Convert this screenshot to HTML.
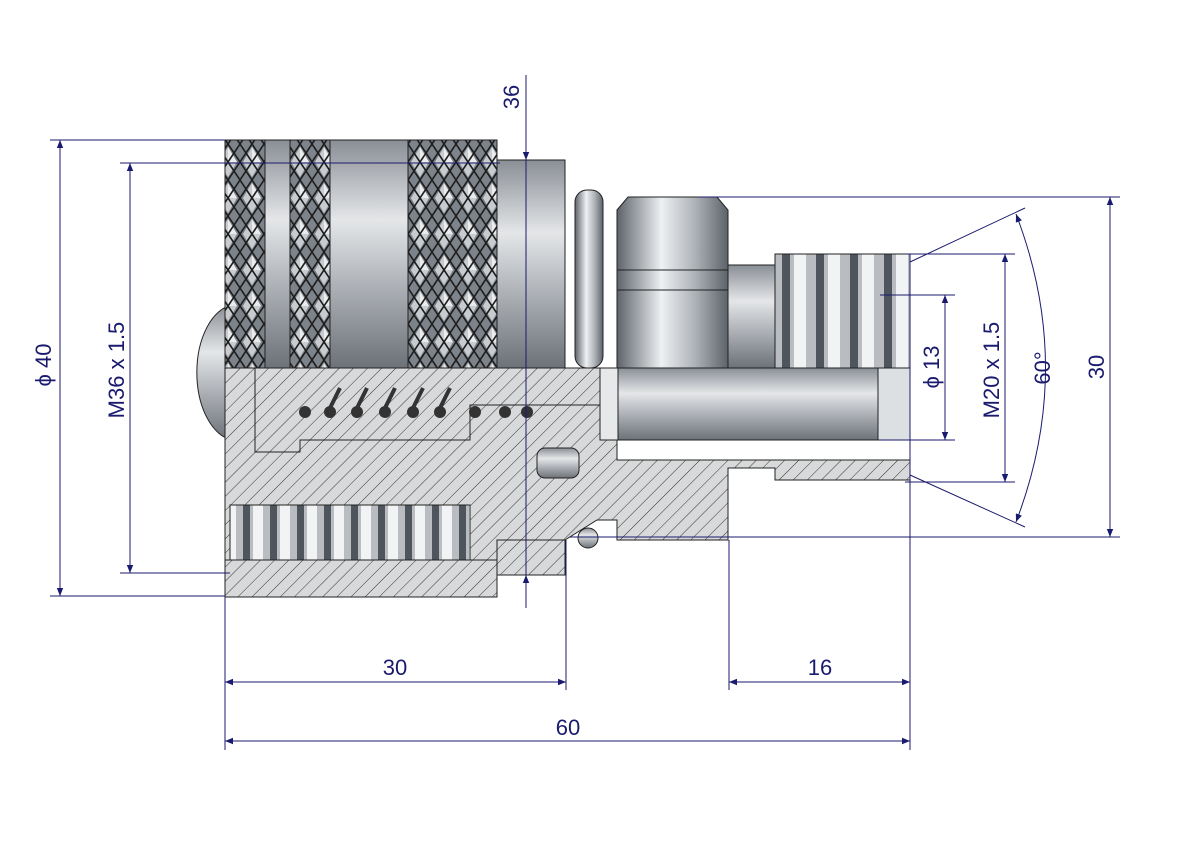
<!DOCTYPE html>
<html><head><meta charset="utf-8"><style>
html,body{margin:0;padding:0;background:#fff}
svg{display:block}
text{font-family:"Liberation Sans",sans-serif;font-size:22px;fill:#1a1a6e}
</style></head><body>
<svg width="1191" height="842" viewBox="0 0 1191 842" xmlns="http://www.w3.org/2000/svg">
<defs>
<linearGradient id="gv" x1="0" y1="0" x2="0" y2="1">
<stop offset="0" stop-color="#8a8f96"/><stop offset="0.35" stop-color="#e4e6e8"/><stop offset="0.6" stop-color="#b5b9be"/><stop offset="1" stop-color="#6d7278"/></linearGradient>
<linearGradient id="gh" x1="0" y1="0" x2="1" y2="0">
<stop offset="0" stop-color="#5d636a"/><stop offset="0.4" stop-color="#eef0f2"/><stop offset="0.7" stop-color="#aeb3b8"/><stop offset="1" stop-color="#5d636a"/></linearGradient>
<pattern id="hatch" width="10" height="10" patternUnits="userSpaceOnUse" patternTransform="rotate(45)">
<rect width="10" height="10" fill="#d8d9db"/><line x1="0" y1="0" x2="0" y2="10" stroke="#333" stroke-width="1"/></pattern>
<pattern id="knurl" width="24" height="36" patternUnits="userSpaceOnUse">
<rect width="24" height="36" fill="#7d838a"/>
<path d="M12 3 L21 18 L12 33 L3 18 Z" fill="#c8ccd0"/>
<path d="M12 3 L21 18 L12 18 Z" fill="#e9ebed"/>
<path d="M0 0 L12 18 L0 36 M24 0 L12 18 L24 36 M0 18 L12 0 L24 18 L12 36 Z" stroke="#1e1e1e" stroke-width="1.6" fill="none"/></pattern>
<pattern id="thr" width="34" height="10" patternUnits="userSpaceOnUse">
<rect width="34" height="10" fill="#b9bdc2"/><rect x="0" width="8" height="10" fill="#4f555c"/><rect x="12" width="12" height="10" fill="#f2f3f4"/></pattern>
<pattern id="thr2" width="27" height="10" patternUnits="userSpaceOnUse">
<rect width="27" height="10" fill="#b9bdc2"/><rect x="0" width="7" height="10" fill="#4f555c"/><rect x="10" width="10" height="10" fill="#f2f3f4"/></pattern>
<marker id="ar" viewBox="0 0 10 10" refX="10" refY="5" markerWidth="14" markerHeight="8" orient="auto-start-reverse" markerUnits="userSpaceOnUse"><path d="M0 1 L10 5 L0 9 Z" fill="#1a1a6e"/></marker>
</defs>

<path d="M232 305 A40 68 0 0 0 232 440 Z" fill="url(#gv)" stroke="#222"/>
<rect x="225" y="140" width="272" height="228" fill="url(#gv)" stroke="#222"/>
<rect x="225" y="140" width="40" height="228" fill="url(#knurl)" stroke="#222"/>
<rect x="290" y="140" width="40" height="228" fill="url(#knurl)" stroke="#222"/>
<rect x="408" y="140" width="89" height="228" fill="url(#knurl)" stroke="#222"/>
<rect x="497" y="160" width="68" height="208" fill="url(#gv)" stroke="#222"/>
<rect x="575" y="190" width="28" height="178" rx="12" fill="url(#gh)" stroke="#222"/>
<path d="M617 210 L628 197 L717 197 L728 210 L728 368 L617 368 Z" fill="url(#gh)" stroke="#222"/>
<line x1="617" y1="270" x2="728" y2="270" stroke="#222"/>
<line x1="617" y1="290" x2="728" y2="290" stroke="#222"/>
<rect x="728" y="265" width="47" height="103" fill="url(#gv)" stroke="#222"/>
<rect x="775" y="254" width="135" height="114" fill="url(#thr)" stroke="#222"/>
<rect x="600" y="368" width="310" height="72" fill="url(#gv)" stroke="#222"/>
<path d="M878 368 L910 368 L910 440 L878 440 Z" fill="#dde0e3" stroke="#222"/>

<path d="M225 368 L497 368 L497 368 L600 368 L600 440 L617 440 L617 460 L910 460 L910 480 L775 480 L775 468 L728 468 L728 540 L617 540 L617 520 L597 520 L565 540 L565 575 L497 575 L497 597 L225 597 Z" fill="url(#hatch)" stroke="#222"/>
<path d="M255 368 L600 368 L600 405 L470 405 L470 440 L300 440 L300 452 L255 452 Z" fill="url(#hatch)" stroke="#222"/>
<rect x="230" y="505" width="240" height="55" fill="url(#thr2)" stroke="#222"/>
<rect x="225" y="560" width="272" height="37" fill="url(#hatch)" stroke="#222"/>
<rect x="497" y="540" width="68" height="35" fill="url(#hatch)" stroke="#222"/>
<g fill="#333">
<circle cx="305" cy="412" r="6"/><circle cx="330" cy="412" r="6"/><circle cx="357" cy="412" r="6"/><circle cx="385" cy="412" r="6"/><circle cx="413" cy="412" r="6"/><circle cx="440" cy="412" r="6"/><circle cx="475" cy="412" r="6"/><circle cx="505" cy="412" r="6"/><circle cx="527" cy="412" r="6"/>
</g>
<path d="M330 408 L340 388 M357 408 L367 388 M385 408 L395 388 M413 408 L423 388 M440 408 L450 388" stroke="#333" stroke-width="4"/>
<rect x="537" y="448" width="42" height="30" rx="8" fill="url(#gv)" stroke="#222"/>
<circle cx="588" cy="538" r="10" fill="url(#gv)" stroke="#222"/>
<rect x="600" y="368" width="18" height="72" fill="#e6e8ea" stroke="#222"/>

<g stroke="#1a1a6e" stroke-width="1" fill="none">
<line x1="50" y1="140" x2="225" y2="140"/><line x1="50" y1="596" x2="225" y2="596"/>
<line x1="60" y1="140" x2="60" y2="596" marker-start="url(#ar)" marker-end="url(#ar)"/>
<line x1="120" y1="163" x2="500" y2="163"/><line x1="120" y1="573" x2="230" y2="573"/>
<line x1="130" y1="163" x2="130" y2="573" marker-start="url(#ar)" marker-end="url(#ar)"/>
<line x1="526" y1="75" x2="526" y2="160" marker-end="url(#ar)"/>
<line x1="526" y1="160" x2="526" y2="575"/>
<line x1="526" y1="608" x2="526" y2="575" marker-end="url(#ar)"/>
<line x1="225" y1="597" x2="225" y2="750"/><line x1="566" y1="540" x2="566" y2="690"/>
<line x1="225" y1="682" x2="566" y2="682" marker-start="url(#ar)" marker-end="url(#ar)"/>
<line x1="910" y1="255" x2="910" y2="750"/><line x1="729" y1="540" x2="729" y2="690"/>
<line x1="729" y1="682" x2="910" y2="682" marker-start="url(#ar)" marker-end="url(#ar)"/>
<line x1="225" y1="741" x2="910" y2="741" marker-start="url(#ar)" marker-end="url(#ar)"/>
<line x1="700" y1="197" x2="1120" y2="197"/><line x1="570" y1="537" x2="1120" y2="537"/>
<line x1="1110" y1="197" x2="1110" y2="537" marker-start="url(#ar)" marker-end="url(#ar)"/>
<line x1="905" y1="254" x2="1015" y2="254"/><line x1="905" y1="482" x2="1015" y2="482"/>
<line x1="1005" y1="254" x2="1005" y2="482" marker-start="url(#ar)" marker-end="url(#ar)"/>
<line x1="880" y1="295" x2="955" y2="295"/><line x1="880" y1="440" x2="955" y2="440"/>
<line x1="945" y1="295" x2="945" y2="440" marker-start="url(#ar)" marker-end="url(#ar)"/>
<line x1="910" y1="262" x2="1025" y2="208"/><line x1="910" y1="475" x2="1025" y2="527"/>
<path d="M1016 214 Q1075 368 1016 522" marker-start="url(#ar)" marker-end="url(#ar)"/>
</g>
<text x="45" y="365" transform="rotate(-90 45 365)" text-anchor="middle" dominant-baseline="middle">ϕ 40</text>
<text x="118" y="370" transform="rotate(-90 118 370)" text-anchor="middle" dominant-baseline="middle">M36 x 1.5</text>
<text x="513" y="97" transform="rotate(-90 513 97)" text-anchor="middle" dominant-baseline="middle">36</text>
<text x="395" y="675" text-anchor="middle">30</text>
<text x="820" y="675" text-anchor="middle">16</text>
<text x="568" y="735" text-anchor="middle">60</text>
<text x="1098" y="367" transform="rotate(-90 1098 367)" text-anchor="middle" dominant-baseline="middle">30</text>
<text x="993" y="370" transform="rotate(-90 993 370)" text-anchor="middle" dominant-baseline="middle">M20 x 1.5</text>
<text x="933" y="367" transform="rotate(-90 933 367)" text-anchor="middle" dominant-baseline="middle">ϕ 13</text>
<text x="1044" y="368" transform="rotate(-90 1044 368)" text-anchor="middle" dominant-baseline="middle">60°</text>
</svg>
</body></html>
